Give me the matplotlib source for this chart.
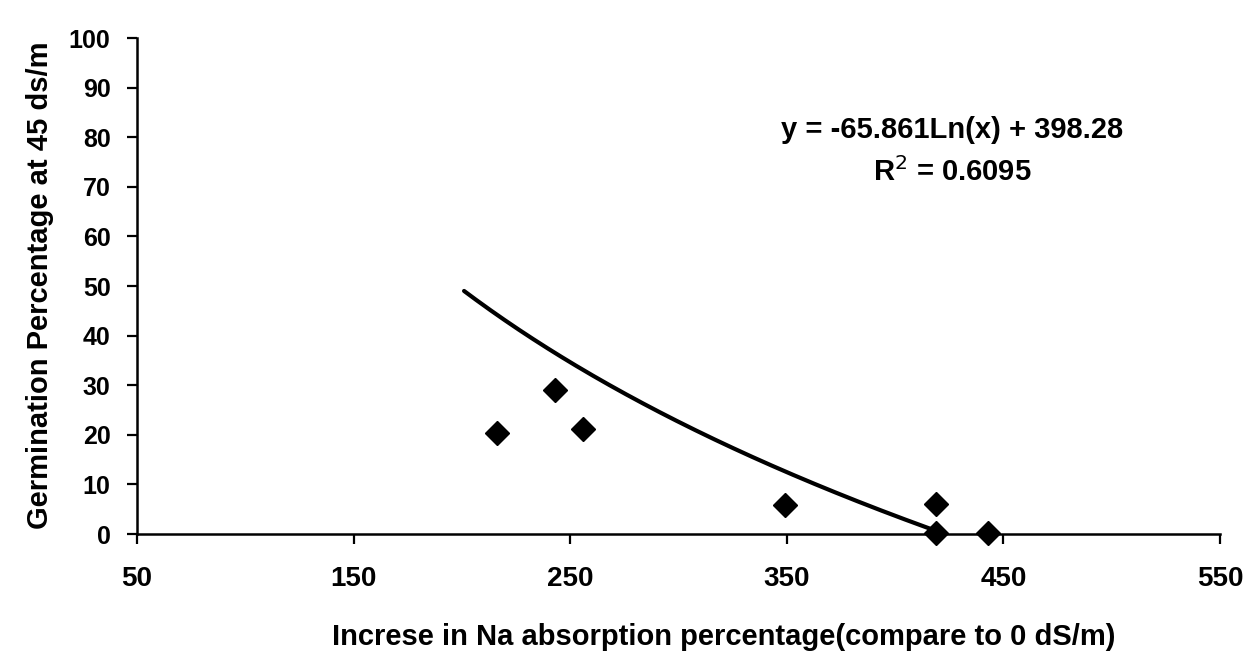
import numpy as np
import matplotlib
matplotlib.use("Agg")
import matplotlib.pyplot as plt

plt.rcParams['font.family'] = ['Liberation Sans', 'DejaVu Sans']

# Data
na_increase = [216, 243, 256, 349, 419, 419, 443]
germination = [20.3, 29.1, 21.2, 5.9, 6.1, 0.3, 0.3]

# Logarithmic trendline coefficients (as printed on the chart)
trend_slope = -65.861
trend_intercept = 398.28
trend_r2 = 0.6095
trend_x_range = [201, 420]

x_ticks = [50, 150, 250, 350, 450, 550]
y_ticks = list(range(0, 101, 10))

W, H = 1249, 655
fig = plt.figure(figsize=(W / 100, H / 100), dpi=100)
ax = fig.add_axes([137 / W, 1 - 534 / H, (1220 - 137) / W, (534 - 38) / H])

tx = np.linspace(trend_x_range[0], trend_x_range[1], 200)
ty = trend_slope * np.log(tx) + trend_intercept
ax.plot(tx, ty, color='black', lw=3.0, solid_capstyle='round', zorder=2)

ax.plot(na_increase, germination, linestyle='none', marker='D', ms=12,
        color='black', zorder=3, clip_on=False)

ax.set_xlim(50, 550)
ax.set_ylim(0, 100)
ax.set_xticks(x_ticks)
ax.set_yticks(y_ticks)
ax.tick_params(axis='both', direction='out', length=7, width=1.6,
               color='black')
ax.tick_params(axis='x', pad=16, labelsize=20)
ax.tick_params(axis='y', pad=12, labelsize=18)
for lab in ax.get_xticklabels() + ax.get_yticklabels():
    lab.set_fontweight('bold')

for side in ['top', 'right']:
    ax.spines[side].set_visible(False)
for side in ['left', 'bottom']:
    ax.spines[side].set_linewidth(1.8)

fig.text(724 / W, 1 - 637 / H,
         'Increse in Na absorption percentage(compare to 0 dS/m)',
         ha='center', va='center', fontsize=21, fontweight='bold')
fig.text(40 / W, 1 - 285 / H, 'Germination Percentage at 45 ds/m',
         ha='center', va='center', rotation=90, fontsize=21,
         fontweight='bold')

fig.text(952 / W, 1 - 130 / H,
         f'y = {trend_slope}Ln(x) + {trend_intercept}',
         ha='center', va='center', fontsize=21, fontweight='bold')
fig.text(952 / W, 1 - 172 / H, f'R$^2$ = {trend_r2}',
         ha='center', va='center', fontsize=21, fontweight='bold')

fig.savefig('out.png', dpi=100, facecolor='white')
